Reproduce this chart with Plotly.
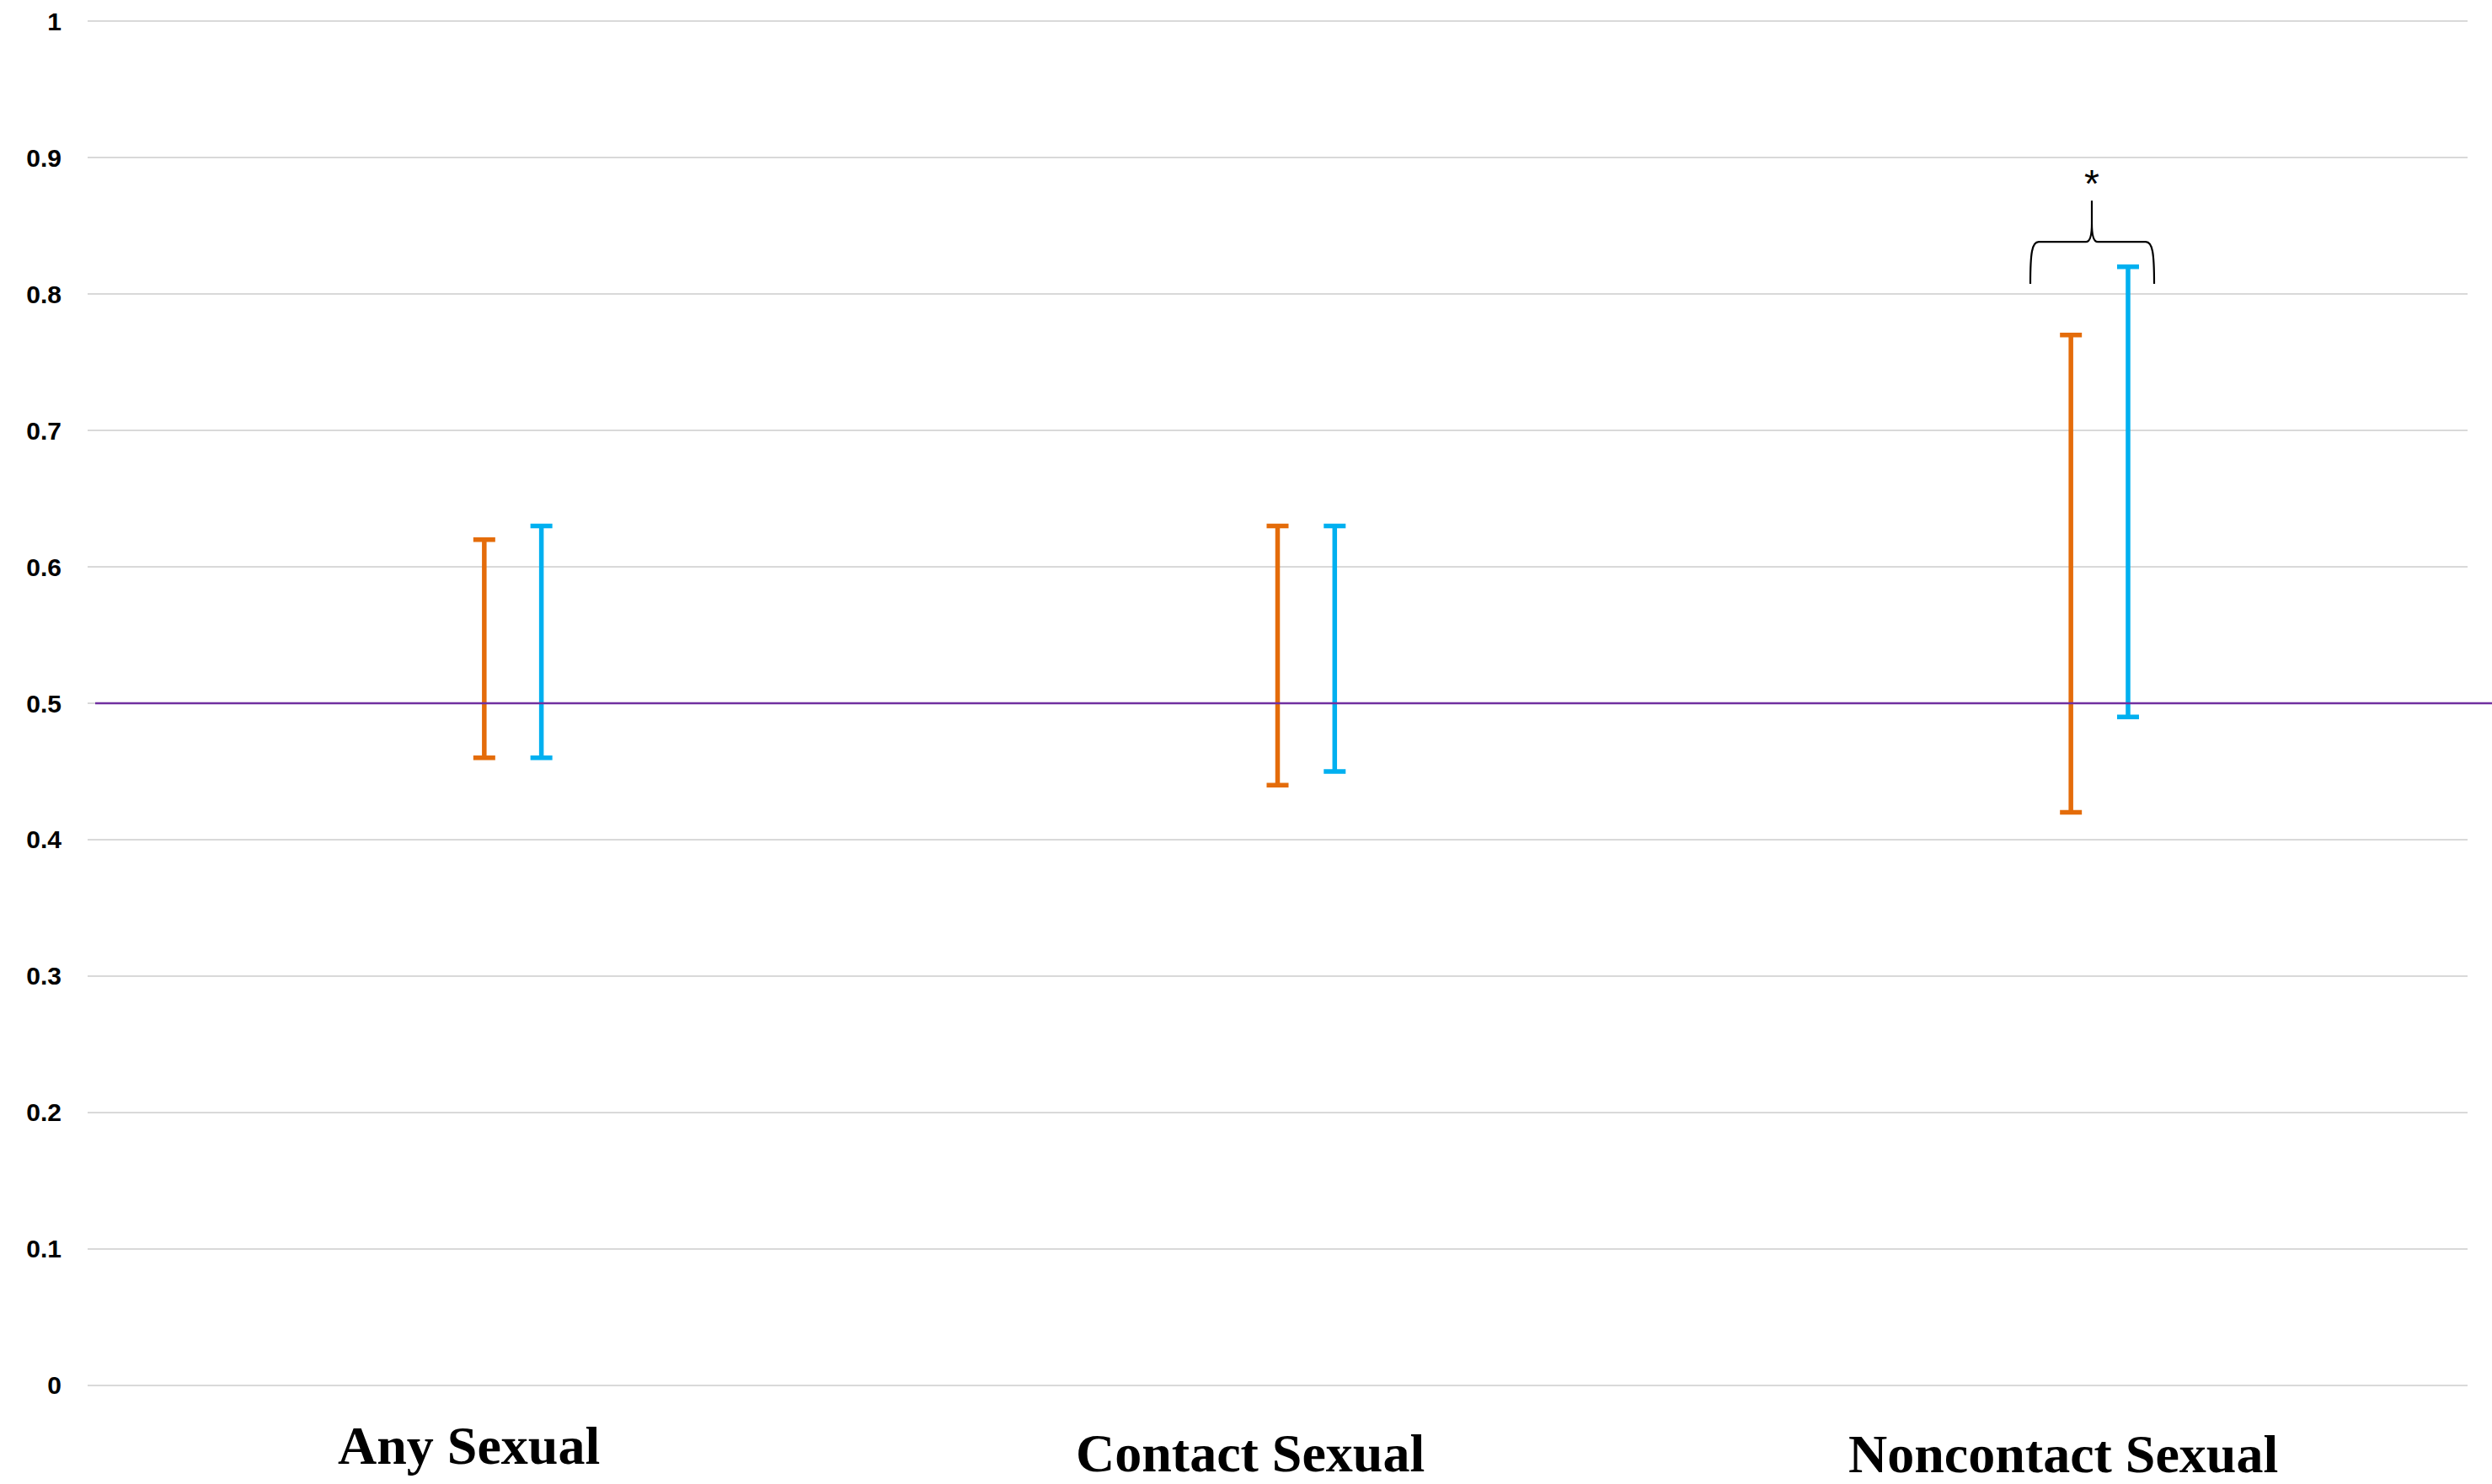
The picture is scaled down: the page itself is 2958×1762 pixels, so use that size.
import plotly.graph_objects as go

# ---- data ----
categories = ["Any Sexual", "Contact Sexual", "Noncontact Sexual"]
orange_low = [0.46, 0.44, 0.42]
orange_high = [0.62, 0.63, 0.77]
blue_low = [0.46, 0.45, 0.49]
blue_high = [0.63, 0.63, 0.82]
y_ticks = [0, 0.1, 0.2, 0.3, 0.4, 0.5, 0.6, 0.7, 0.8, 0.9, 1]
y_tick_labels = ["0", "0.1", "0.2", "0.3", "0.4", "0.5", "0.6", "0.7", "0.8", "0.9", "1"]
reference_line = 0.5
significance_label = "*"

# ---- layout constants ----
W, H = 2958, 1762
Y0_PX = 1645          # pixel row of value 0
UNIT_PX = 1620        # pixels per 1.0
PAD = 0.01            # extra y-range so edge gridlines render
ML, MR = 104, 29
MT = round(Y0_PX - UNIT_PX * (1 + PAD))
MB = round(H - (Y0_PX + UNIT_PX * PAD))
PW = W - ML - MR
PH = H - MT - MB
ORANGE = "#E46C0A"
BLUE = "#00B0F0"
PURPLE = "#7030A0"
BLUE_OFFSET = 0.072


def px_to_x(px):
    return (px - ML) / PW * 3 - 0.5


def px_to_y(py):
    return (Y0_PX - py) / UNIT_PX


def px_to_paper_y(py):
    return (H - MB - py) / PH


fig = go.Figure()

xs = list(range(len(categories)))


def add_range(low, high, color, offset):
    mids = [(l + h) / 2 for l, h in zip(low, high)]
    half = [(h - l) / 2 for l, h in zip(low, high)]
    fig.add_trace(go.Scatter(
        x=[x + offset for x in xs], y=mids, mode="markers",
        marker=dict(size=1, color="rgba(0,0,0,0)"),
        error_y=dict(type="data", array=half, symmetric=True,
                     color=color, thickness=5.5, width=13),
        showlegend=False, hoverinfo="skip",
    ))


add_range(orange_low, orange_high, ORANGE, 0.0)
add_range(blue_low, blue_high, BLUE, BLUE_OFFSET)

# reference line at 0.5
fig.add_shape(type="line", xref="paper", yref="y",
              x0=(113 - ML) / PW, x1=(W - ML) / PW,
              y0=reference_line, y1=reference_line,
              line=dict(color=PURPLE, width=2.7), layer="above")

# category labels
label_shift = [-18, -33, -9]
label_y_px = [1717, 1725, 1726]
for i, cat in enumerate(categories):
    fig.add_annotation(x=xs[i], y=px_to_paper_y(label_y_px[i]), xref="x", yref="paper",
                       text=cat, showarrow=False, xshift=label_shift[i],
                       xanchor="center", yanchor="middle", borderpad=0,
                       font=dict(family="Liberation Serif", size=64,
                                 color="black", weight="bold"))

# brace over the noncontact pair
xl, xr, xc = 2410, 2557, 2483
yb, yh, yt = 337, 287, 238
pts = [
    ("M", [(xl, yb)]),
    ("C", [(xl, 300), (xl + 2, yh), (xl + 10, yh)]),
    ("L", [(xc - 7, yh)]),
    ("C", [(xc - 2, yh), (xc, 280), (xc, 265)]),
    ("L", [(xc, yt)]),
    ("M", [(xc, 265)]),
    ("C", [(xc, 280), (xc + 2, yh), (xc + 7, yh)]),
    ("L", [(xr - 10, yh)]),
    ("C", [(xr - 2, yh), (xr, 300), (xr, yb)]),
]
path = ""
for cmd, plist in pts:
    path += cmd + " " + " ".join(f"{px_to_x(a):.5f},{px_to_y(b):.5f}" for a, b in plist) + " "
fig.add_shape(type="path", path=path.strip(), xref="x", yref="y",
              line=dict(color="black", width=2.2))

fig.add_annotation(x=px_to_x(xc), y=px_to_y(218), xref="x", yref="y",
                   text=significance_label, showarrow=False,
                   xanchor="center", yanchor="middle",
                   font=dict(family="Liberation Sans", size=46, color="black"))

fig.update_layout(
    width=W, height=H,
    margin=dict(l=ML, r=MR, t=MT, b=MB, autoexpand=False),
    plot_bgcolor="white", paper_bgcolor="white",
    xaxis=dict(range=[-0.5, 2.5], showgrid=False, zeroline=False,
               showticklabels=False, showline=False, ticks=""),
    yaxis=dict(range=[-PAD, 1 + PAD], tickvals=y_ticks, ticktext=y_tick_labels,
               showgrid=True, gridcolor="#D9D9D9", gridwidth=2,
               zeroline=False, showline=False, ticks="",
               ticklabelstandoff=30,
               tickfont=dict(family="Liberation Sans", size=30,
                             color="black", weight="bold")),
    showlegend=False,
)

fig.write_html("out.html")
